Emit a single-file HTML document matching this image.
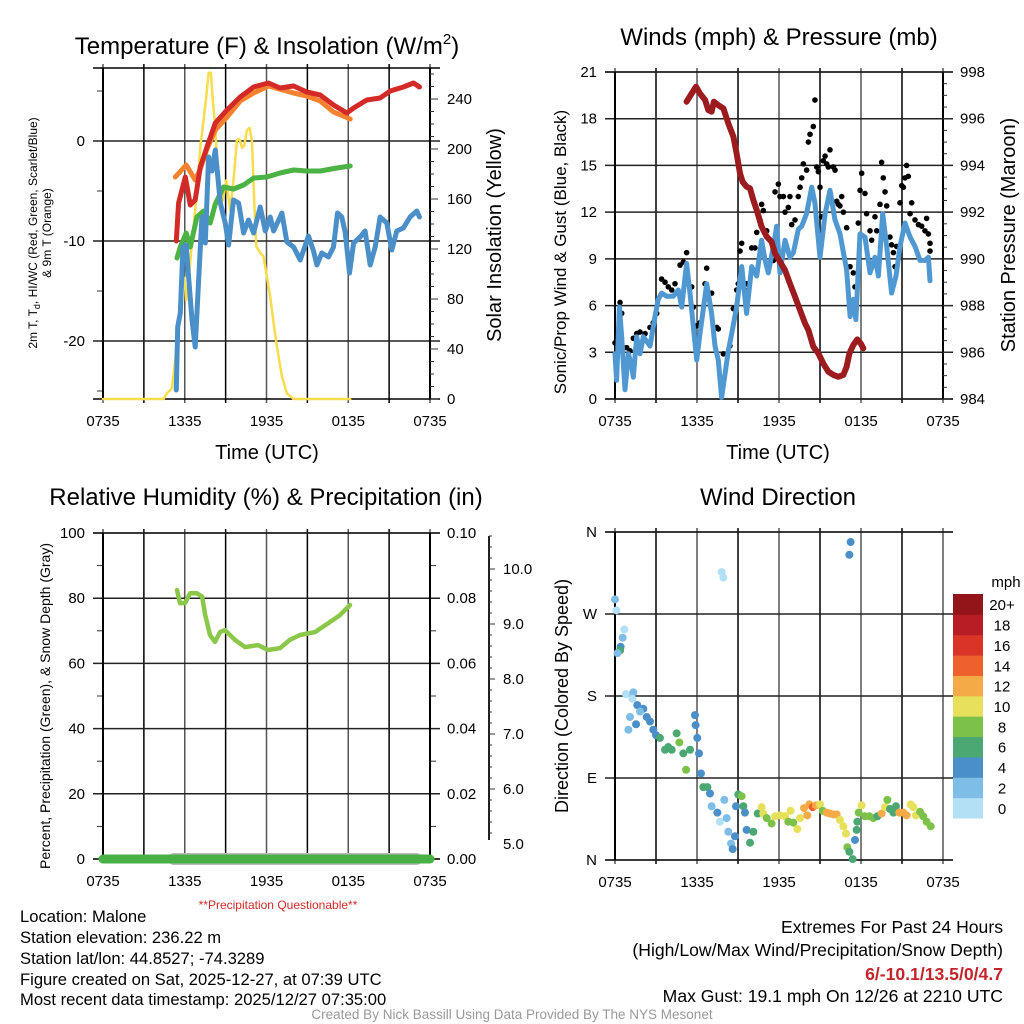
<!DOCTYPE html>
<html><head><meta charset="utf-8"><style>
body{margin:0;background:#fff}
svg{display:block;font-family:"Liberation Sans",sans-serif}
</style></head><body>
<svg id="s" width="1024" height="1024" viewBox="0 0 1024 1024" xmlns="http://www.w3.org/2000/svg">
<g id="frames"></g>
<g id="marks"></g>
<g id="texts" fill="#000">
<text x="267" y="54" font-size="24" text-anchor="middle">Temperature (F) &amp; Insolation (W/m<tspan font-size="15" dy="-10">2</tspan><tspan dy="10">)</tspan></text>
<text x="779" y="45" font-size="24" text-anchor="middle">Winds (mph) &amp; Pressure (mb)</text>
<text x="266" y="505" font-size="24" text-anchor="middle">Relative Humidity (%) &amp; Precipitation (in)</text>
<text x="778" y="505" font-size="24" text-anchor="middle">Wind Direction</text>
<text x="267" y="459" font-size="20" text-anchor="middle">Time (UTC)</text>
<text x="778" y="459" font-size="20" text-anchor="middle">Time (UTC)</text>
<text transform="translate(37,233) rotate(-90)" font-size="12" text-anchor="middle">2m T, T<tspan font-size="9" dy="3">d</tspan><tspan dy="-3">,  HI/WC (Red, Green, Scarlet/Blue)</tspan></text>
<text transform="translate(51,233) rotate(-90)" font-size="12" text-anchor="middle">&amp; 9m T (Orange)</text>
<text transform="translate(501,235) rotate(-90)" font-size="20" text-anchor="middle">Solar Insolation (Yellow)</text>
<text transform="translate(566,252) rotate(-90)" font-size="17" text-anchor="middle">Sonic/Prop Wind &amp; Gust (Blue, Black)</text>
<text transform="translate(1015,235) rotate(-90)" font-size="20" text-anchor="middle">Station Pressure (Maroon)</text>
<text transform="translate(50,706) rotate(-90)" font-size="14" text-anchor="middle">Percent, Precipitation (Green), &amp; Snow Depth (Gray)</text>
<text transform="translate(568,696) rotate(-90)" font-size="18" text-anchor="middle">Direction (Colored By Speed)</text>
<text x="278" y="909" font-size="12" fill="#d42a2a" text-anchor="middle">**Precipitation Questionable**</text>
<g font-size="16.6">
<text x="20" y="922">Location: Malone</text>
<text x="20" y="943">Station elevation: 236.22 m</text>
<text x="20" y="964">Station lat/lon: 44.8527; -74.3289</text>
<text x="20" y="985">Figure created on Sat, 2025-12-27, at 07:39 UTC</text>
<text x="20" y="1005">Most recent data timestamp: 2025/12/27 07:35:00</text>
</g>
<g font-size="17.6" text-anchor="end">
<text x="1003" y="933">Extremes For Past 24 Hours</text>
<text x="1003" y="956">(High/Low/Max Wind/Precipitation/Snow Depth)</text>
<text x="1003" y="980" fill="#c4252b" font-weight="bold">6/-10.1/13.5/0/4.7</text>
<text x="1003" y="1002">Max Gust: 19.1 mph On 12/26 at 2210 UTC</text>
</g>
<text x="512" y="1019" font-size="13.5" fill="#999" text-anchor="middle">Created By Nick Bassill Using Data Provided By The NYS Mesonet</text>
</g>
</svg>
<script>
// ---------- DATA ----------
const xTickLabels = ["0735","1335","1935","0135","0735"];
// Panel 1 (hours since 0735)
const redT = [5.38,5.55,6.04,6.41,6.77,7.14,7.63,8.24,9.10,10.07,11.05,12.15,13.0,13.99,14.96,15.94,16.92,17.90,18.39,19.36,20.34,21.08,22.05,22.79,23.23];
const redV = [-10,-6.2,-3.6,-6.4,-5.9,-2.6,-0.6,1.8,3.1,4.4,5.4,5.8,5.3,5.5,4.9,4.6,3.6,2.8,3.3,4.1,4.3,5.0,5.4,5.8,5.4];
const orangeT = [5.31,6.11,6.77,7.14,7.63,8.24,9.10,10.07,11.05,12.15,13.99,14.96,15.94,16.92,18.14];
const orangeV = [-3.6,-2.4,-3.9,-2.8,-0.8,1.1,2.4,4.0,4.8,5.5,4.8,4.5,4.0,2.9,2.2];
const greenT = [5.43,5.67,6.11,6.41,6.89,7.38,7.87,8.24,8.85,9.58,10.32,11.05,12.03,13.0,13.99,14.96,15.94,17.17,18.14];
const greenV = [-11.7,-10.6,-9.2,-10.6,-7.6,-7.0,-8.2,-6.3,-4.6,-4.8,-4.4,-3.7,-3.6,-3.2,-2.9,-3.0,-3.0,-2.7,-2.5];
const blueT = [5.38,5.48,5.67,5.87,6.11,6.28,6.53,6.77,7.02,7.26,7.51,7.75,8.0,8.24,8.61,8.97,9.22,9.58,9.95,10.32,10.68,11.05,11.54,11.91,12.27,12.52,13.13,13.5,13.99,14.47,15.08,15.45,15.70,16.06,16.55,16.92,17.21,17.53,17.78,18.09,18.39,18.87,19.24,19.61,19.98,20.34,20.83,21.2,21.56,22.05,22.54,23.03,23.23];
const blueV = [-24.9,-18.6,-17.2,-10.6,-10.4,-13.6,-17.9,-20.6,-14,-7.6,-10.2,-1.6,-3.0,-0.9,-6.2,-8.2,-10.4,-5.9,-6.2,-9.2,-7.9,-9.2,-6.6,-9.0,-7.6,-9.0,-7.2,-10.1,-10.6,-11.9,-9.5,-11,-12.4,-11.2,-11.6,-10.6,-7.2,-7.6,-9.2,-13.2,-10.2,-9.6,-9.0,-12.4,-10.6,-7.6,-8.2,-10.9,-9.0,-8.7,-7.6,-7.0,-7.6];
const solarT = [0,4.45,4.69,5.06,5.31,5.55,5.79,5.97,6.11,6.28,6.53,6.89,7.14,7.38,7.58,7.75,7.92,8.07,8.24,8.41,8.61,8.80,9.05,9.34,9.58,9.83,10.02,10.2,10.37,10.56,10.76,10.93,11.1,11.25,11.54,11.78,12.03,12.27,12.52,12.76,13.13,13.5,13.99,18.14];
const solarV = [0,0,4.5,8.5,31,66,85,97,79,95,125,165,202,223,242,261,261,237,218,178,167,159,175,151,175,207,208,201,203,215,217,207,159,122,117,114,98,82,61,42,18,4.5,0,0];
// Panel 2
const windT = [0,.12,.32,.49,.73,.98,1.22,1.34,1.59,1.83,2.07,2.56,2.93,3.17,3.41,3.78,4.27,4.63,4.88,5.24,5.49,5.98,6.22,6.71,7.07,7.32,7.56,7.8,8.05,8.29,8.54,8.9,9.27,9.63,10.0,10.37,10.73,10.98,11.22,11.59,11.83,12.07,12.44,12.8,13.05,13.41,13.66,14.02,14.39,14.63,15.0,15.37,15.73,16.1,16.46,16.95,17.2,17.44,17.63,17.93,18.29,18.66,19.02,19.27,19.59,19.88,20.24,20.56,20.85,21.22,21.59,21.95,22.32,22.68,22.93,23.05];
const windV = [2.9,1.2,5.9,4.0,0.6,2.9,2.1,1.4,4.0,2.9,4.0,3.4,5.3,6.4,6.8,6.6,6.6,7.0,5.9,8.7,6.8,2.5,4.2,7.4,5.5,3.4,2.5,0.1,1.6,3.1,4.2,5.9,8.5,5.5,8.5,7.9,10.2,8.9,8.1,9.8,11.1,8.1,10.2,9.1,9.4,10.9,11.1,11.9,13.6,12.6,9.1,11.9,13.4,11.5,10.6,8.3,5.3,6.4,5.1,10.6,10.4,8.1,9.1,7.9,11.9,9.8,6.8,7.9,9.8,11.3,10.4,9.8,8.9,8.9,9.1,7.6];
const gustT = [0,.37,.49,.85,1.1,1.34,1.59,1.83,2.2,2.56,2.8,3.05,3.41,3.66,3.9,4.15,4.39,4.76,5.0,5.24,5.61,5.73,5.98,6.22,6.59,6.71,7.07,7.44,7.56,7.93,8.17,8.41,8.66,8.9,9.02,9.15,9.27,9.63,9.76,10.0,10.24,10.37,10.61,10.73,10.85,11.1,11.59,11.71,11.95,12.07,12.32,12.44,12.68,12.8,12.93,13.17,13.41,13.54,13.66,13.78,14.02,14.15,14.27,14.51,14.63,14.76,14.88,15.0,15.12,15.24,15.37,15.49,15.61,15.73,15.98,16.1,16.22,16.34,16.46,16.59,16.71,16.95,17.2,17.44,17.56,17.8,17.93,18.05,18.29,18.41,18.66,18.78,19.02,19.15,19.39,19.51,19.63,19.76,19.88,20.12,20.24,20.37,20.49,20.61,20.85,20.98,21.1,21.22,21.34,21.46,21.59,21.71,21.95,22.2,22.44,22.68,22.8,22.93,23.05,23.05];
const gustV = [3.6,6.2,5.5,3.3,3.1,3.9,4.2,4.3,4.2,4.6,4.9,5.5,7.7,7.5,7.2,7.0,7.4,8.6,8.8,9.4,7.2,5.9,4.7,4.9,7.4,8.4,6.8,4.6,4.5,2.9,2.9,3.4,5.8,7.0,7.4,9.5,10.0,7.4,7.0,9.7,9.7,10.7,11.5,12.5,12.1,10.8,8.9,13.3,13.8,13.0,13.0,12.0,12.3,13.0,11.2,11.5,13.0,13.6,14.2,15.1,14.7,16.5,17.0,17.5,19.2,14.9,14.6,13.6,11.7,15.3,15.6,15.1,14.9,16.0,14.9,14.7,12.7,12.5,12.4,13.0,12.0,11.0,8.5,8.1,7.2,11.3,13.4,14.5,13.2,11.9,10.8,10.2,11.7,10.8,12.5,15.2,14.2,13.3,12.4,10.4,9.9,9.4,8.5,9.8,12.6,13.7,13.6,14.2,15.0,14.3,11.9,12.6,11.5,11.2,11.1,10.8,11.6,10.6,10.0,9.5];
const presT = [5.24,5.61,5.93,6.22,6.59,6.83,7.07,7.24,7.56,7.93,8.29,8.66,8.9,9.15,9.34,9.63,9.88,10.12,10.37,10.73,11.1,11.46,11.71,12.07,12.44,12.8,13.17,13.54,13.9,14.15,14.51,14.88,15.24,15.61,15.98,16.34,16.71,16.95,17.15,17.44,17.73,17.98,18.17];
const presV = [996.73,997.08,997.37,997.08,996.8,996.37,996.3,996.73,996.58,996.44,995.8,995.23,994.51,993.66,993.3,993.09,993.02,992.52,992.09,991.38,990.95,990.73,990.23,989.88,989.52,988.95,988.38,987.81,987.24,986.95,986.24,985.95,985.52,985.17,985.03,984.95,985.03,985.38,985.95,986.31,986.55,986.38,986.17];
// Panel 3
const rhT = [5.43,5.65,6.02,6.39,6.9,7.27,7.49,7.85,8.22,8.59,8.95,9.69,10.42,11.38,12.11,12.99,13.72,14.46,15.56,16.66,17.39,18.13];
const rhV = [82.5,78.5,78.5,81.5,81.5,80.5,75,68.7,66.6,69.6,70.2,67.2,65,65.6,64.1,64.7,67.2,68.7,69.6,72.7,74.8,77.9];
const precipT = [0,24];
const precipV = [0,0];
const snowT = [5.2,23];
// Panel 4
const dirT = [0,0.1,.68,.56,.41,.37,.18,.8,1.34,1.27,1.63,2.07,1.83,1.1,.98,1.54,2.32,2.56,2.8,3.0,3.29,3.66,3.9,4.15,4.51,4.71,5.0,5.2,5.49,5.85,5.9,6.02,6.15,6.29,6.46,6.76,6.95,7.07,7.49,7.68,8.0,8.17,8.29,8.49,8.61,8.78,8.85,9.02,9.27,9.39,9.51,9.63,9.88,10.12,10.44,10.73,10.85,11.1,11.46,11.71,12.07,12.44,12.68,12.85,13.05,13.34,13.54,13.83,14.07,14.22,14.46,14.71,15.0,15.2,15.49,15.73,15.98,16.22,16.46,16.71,16.9,17.0,17.15,17.39,17.56,17.68,17.73,17.83,18.05,18.29,18.61,18.9,19.2,19.51,19.76,19.93,20.12,20.37,20.56,20.8,21.1,21.34,21.63,21.83,22.02,22.32,22.56,22.8,23.1,7.8,7.93,17.24,17.15];
const dirV = [286,274,253,244,234,230,227,182,184,177,170,166,163,157,143,149,157,152,143,137,134,121,124,121,139,129,117,99,121,159,148,134,117,95,80,80,73,59,52,42,66,46,31,18,12,26,59,72,70,59,52,33,19,31,51,58,51,46,40,48,49,48,42,54,41,34,46,57,49,61,58,60,61,54,52,51,50,50,44,37,29,14,9,1,22,33,42,52,60,48,48,46,48,51,58,66,56,52,59,52,52,49,61,58,49,53,48,42,37,316,310,349,335];
const dirS = [3,1,1,3,5,7,3,1,3,1,5,5,3,3,3,5,5,5,5,5,7,7,7,7,7,9,7,9,7,5,5,5,5,5,7,7,5,3,5,1,3,3,3,3,5,5,5,7,9,7,5,5,7,7,7,11,11,9,9,11,11,11,9,11,9,11,11,13,13,13,15,13,11,9,13,13,13,13,11,11,11,9,7,7,5,7,7,9,11,9,9,9,7,13,11,9,7,7,7,13,13,13,11,11,11,9,9,9,9,1,1,5,5];
const speedBins = ["0","2","4","6","8","10","12","14","16","18","20+"];
const binColors = ["#b3e0f5","#7ebde6","#4a8fc8","#4ba872","#7cc24a","#e6e05a","#f5aa48","#ef612c","#da3328","#b81c25","#931519"];

// ---------- DRAW ----------
const NS="http://www.w3.org/2000/svg";
const frames=document.getElementById('frames'), marks=document.getElementById('marks');
function mk(tag,attrs,parent){const e=document.createElementNS(NS,tag);for(const k in attrs)e.setAttribute(k,attrs[k]);(parent||marks).appendChild(e);return e;}
function txt(x,y,s,size,anchor,parent){const t=mk('text',{x:x,y:y,'font-size':size,'text-anchor':anchor},parent||frames);t.textContent=s;return t;}

function panel(L,R,T,B){
  const g=mk('g',{},frames);
  for(let i=0;i<=8;i++){const x=L+(R-L)*i/8;mk('line',{x1:x,y1:T-4,x2:x,y2:B+4,stroke:i%2?'#000':'#555','stroke-width':1.5},g);}
  mk('line',{x1:L-10,y1:T,x2:R+10,y2:T,stroke:'#000','stroke-width':1.5},g);
  mk('line',{x1:L-10,y1:B,x2:R+10,y2:B,stroke:'#000','stroke-width':1.5},g);
  return g;
}
function hgrid(g,L,R,y){mk('line',{x1:L-10,y1:y,x2:R+10,y2:y,stroke:'#222','stroke-width':1.5},g);}
function xticks(L,R,B){for(let i=0;i<5;i++){txt(L+(R-L)*i/4,B+27,xTickLabels[i],15,'middle');}}
function line(ts,vs,sx,sy,color,w,name){
  const p=ts.map((t,i)=>sx(t).toFixed(1)+','+sy(vs[i]).toFixed(1)).join(' ');
  const e=mk('polyline',{points:p,fill:'none',stroke:color,'stroke-width':w,'stroke-linejoin':'round','stroke-linecap':'round'});
  
  
  return e;
}

// Panel 1
{const L=103,R=430,T=68,B=399;
 const sx=t=>L+(R-L)*t/24, sy=v=>141-10*v, sr=v=>399-1.25*v;
 const g=panel(L,R,T,B);
 [0,-10,-20].forEach(v=>{hgrid(g,L,R,sy(v));txt(L-18,sy(v)+5,String(v),15,'end');});
 for(let v=-25;v<=5;v+=5){if(v%10)mk('line',{x1:L-6,y1:sy(v),x2:L,y2:sy(v),stroke:'#333'},g);}
 mk('line',{x1:L,y1:T,x2:L,y2:B,stroke:'#000','stroke-width':2},g);
 mk('line',{x1:R,y1:T,x2:R,y2:B,stroke:'#000','stroke-width':2},g);
 for(let v=0;v<=260;v+=10){mk('line',{x1:R,y1:sr(v),x2:R+(v%40==0?8:4),y2:sr(v),stroke:'#333'},g);}
 [0,40,80,120,160,200,240].forEach(v=>txt(R+17,sr(v)+5,String(v),15,'start'));
 xticks(L,R,B);
 line(solarT,solarV,sx,sr,'#f7dc4c',2.5,'insolation-line');
 line(orangeT,orangeV,sx,sy,'#f6822f',5,'temp-9m-line');
 line(redT,redV,sx,sy,'#d42a27',5,'temp-2m-line');
 line(greenT,greenV,sx,sy,'#4bb244',5,'dewpoint-line');
 line(blueT,blueV,sx,sy,'#4b8fc8',5,'windchill-line');
}
// Panel 2
{const L=615,R=943,T=72,B=399;
 const sx=t=>L+(R-L)*t/24, sy=v=>B-(B-T)*v/21, sp=p=>B-(B-T)*(p-984)/14;
 const g=panel(L,R,T,B);
 for(let v=0;v<=21;v+=3){hgrid(g,L,R,sy(v));txt(L-18,sy(v)+5,String(v),15,'end');}
 mk('line',{x1:L,y1:T,x2:L,y2:B,stroke:'#000','stroke-width':2},g);
 mk('line',{x1:R,y1:T,x2:R,y2:B,stroke:'#000','stroke-width':2},g);
 for(let p=984;p<=998;p+=0.5){mk('line',{x1:R,y1:sp(p),x2:R+(p%2==0?8:4),y2:sp(p),stroke:'#333'},g);}
 for(let p=984;p<=998;p+=2)txt(R+17,sp(p)+5,String(p),15,'start');
 xticks(L,R,B);
 gustT.forEach((t,i)=>{const c=mk('circle',{cx:sx(t),cy:sy(gustV[i]),r:2.8,fill:'#000'});
   
   });
 line(windT,windV,sx,sy,'#4f98d2',5,'wind-speed-line');
 line(presT,presV,sx,sp,'#9b1b1e',6,'pressure-line');
}
// Panel 3
{const L=103,R=430,T=533,B=859;
 const sx=t=>L+(R-L)*t/24, sy=v=>B-(B-T)*v/100, sp=v=>B-(B-T)*v/0.1, ss=v=>844-55*(v-5);
 const g=panel(L,R,T,B);
 for(let v=0;v<=100;v+=20){hgrid(g,L,R,sy(v));txt(L-18,sy(v)+5,String(v),15,'end');}
 for(let v=10;v<100;v+=20){mk('line',{x1:L-6,y1:sy(v),x2:L,y2:sy(v),stroke:'#333'},g);mk('line',{x1:R,y1:sy(v),x2:R+6,y2:sy(v),stroke:'#333'},g);}
 mk('line',{x1:L,y1:T,x2:L,y2:B,stroke:'#000','stroke-width':2},g);
 mk('line',{x1:R,y1:T,x2:R,y2:B,stroke:'#000','stroke-width':2},g);
 for(let v=0;v<=0.1001;v+=0.02)txt(R+17,sp(v)+5,v.toFixed(2),15,'start');
 mk('line',{x1:489,y1:T+3,x2:489,y2:B-19,stroke:'#222','stroke-width':2},g);
 for(let v=4.8;v<=10.6;v+=0.2){const y=ss(v);if(y<T+3||y>B-19)continue;mk('line',{x1:489,y1:y,x2:489+(Math.abs(v-Math.round(v))<0.01?6:3),y2:y,stroke:'#333'},g);}
 for(let v=5;v<=10;v++)txt(503,ss(v)+5,v.toFixed(1),15,'start');
 xticks(L,R,B);
 line(snowT,[4.7,4.7],sx,v=>B,'#bbbbbb',12,'snow-depth-line');
 line(precipT,precipV,sx,sp,'#48b044',9,'precip-line');
 mk('line',{x1:L,y1:B,x2:R,y2:B,stroke:'#000','stroke-width':2},g);
 line(rhT,rhV,sx,sy,'#8bc84a',4.5,'rh-line');
}
// Panel 4
{const L=615,R=943,T=532,B=860;
 const sx=t=>L+(R-L)*t/24, sy=d=>B-(B-T)*d/360;
 const g=panel(L,R,T,B);
 const lab=['N','E','S','W','N'];
 for(let i=0;i<5;i++){hgrid(g,L,R,sy(i*90));txt(L-18,sy(i*90)+5,lab[i],15,'end');}
 mk('line',{x1:L,y1:T,x2:L,y2:B,stroke:'#000','stroke-width':2},g);
 xticks(L,R,B);
 dirT.forEach((t,i)=>{const b=Math.min(10,Math.floor(dirS[i]/2));
   const c=mk('circle',{cx:sx(t),cy:sy(dirV[i]),r:4,fill:binColors[b]});
   
   });
 const cb=mk('g',{},frames);
 
 
 const h=224/11;
 for(let i=0;i<11;i++){const y=818-(i+1)*h;mk('rect',{x:953,y:y,width:30,height:h+0.5,fill:binColors[i]},cb);txt(1002,y+h/2+6,speedBins[i],15,'middle',cb);}
 txt(1006,587,'mph',15,'middle',cb);
}
</script>
</body></html>
